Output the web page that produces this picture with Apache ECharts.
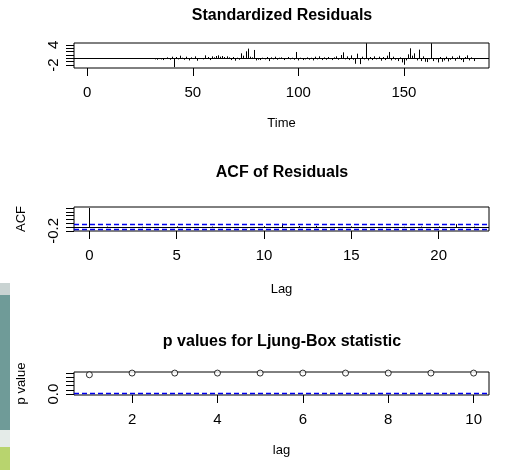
<!DOCTYPE html>
<html>
<head>
<meta charset="utf-8">
<script src="https://cdn.jsdelivr.net/npm/echarts@6/dist/echarts.min.js"></script>
<style>
  html, body { margin: 0; padding: 0; background: #fff; }
  #chart { width: 508px; height: 470px; }
</style>
</head>
<body>
<div id="chart"></div>
<script>
// standardized residuals, time 32..183 (nothing drawn before 32)
var residStart = 32;
var residuals = [
  -0.3, -0.4, -0.2, -0.3, -0.5, -0.2, 0.3, -0.4, 0.5, -2.6,
  0.4, -0.3, 0.8, 0.2, -0.4, 0.5, -0.6, 0.3, -0.2, 0.6,
  -0.7, -0.2, 0.1, -0.3, 0.9, 0.4, -0.5, 0.6, 0.3, 0.7,
  0.9, 0.5, 0.7, 0.4, 0.6, 0.3, -0.5, 0.4, -0.7, 0.2,
  -0.4, 1.5, 0.8, 2.1, 2.9, 0.5, 0.3, 2.5, -0.6, -0.4,
  -0.5, 0.2, -0.3, 0.4, -0.8, 0.3, -0.3, 0.5, -0.4, 0.2,
  0.3, -0.5, -0.2, 0.4, -0.3, 0.2, -0.4, 1.9, -0.6, 0.2,
  -0.5, -0.3, 0.3, -0.4, 0.2, -0.6, 0.5, -0.3, 0.6, -0.5,
  0.3, -0.4, 0.4, -0.2, -0.5, 0.3, 0.6, -0.4, 1.0, 1.8,
  -0.3, 0.6, -0.5, 0.9, -0.4, -1.6, 1.4, -1.7, 0.5, -0.3,
  4.5, -0.6, 0.4, -0.5, 0.6, -0.3, 0.5, -0.7, 0.4, -0.5,
  0.8, 1.9, -0.6, 0.5, -0.4, -0.8, 0.3, -1.2, -1.9, -0.6,
  1.2, 3.0, 0.8, 1.5, -0.6, 2.6, -0.8, 0.6, -1.0, -1.1,
  -0.3, 4.5, -0.8, -0.3, -1.2, 0.4, -1.0, -0.6, 0.5, -0.9,
  -0.4, 0.6, -0.7, 0.3, 0.8, -0.5, -1.1, 0.4, 0.9, -0.6,
  0.3, -0.8
];
var timeTicks = [0, 50, 100, 150];
var residTicks = [-2, -1, 0, 1, 2, 3, 4];
var residLabels = [-2, 4];

// ACF of residuals, lag 0..22
var acfValues = [1, 0.02, -0.03, 0.01, -0.02, 0.03, -0.05, 0.02, -0.01, -0.06, 0.04,
  0.18, 0.05, 0.06, -0.07, 0.03, -0.02, -0.06, 0.01, 0.02, 0.03, 0.15, 0.02];
var acfBound = 0.115;
var lagTicks = [0, 5, 10, 15, 20];
var acfTicks = [-0.2, 0, 0.2, 0.4, 0.6, 0.8, 1.0];
var acfLabels = [-0.2];

// Ljung-Box p values, lag 1..10
var pLags = [1, 2, 3, 4, 5, 6, 7, 8, 9, 10];
var pValues = [0.91, 0.99, 0.99, 0.99, 0.99, 0.99, 0.99, 0.99, 0.99, 0.99];
var pLevel = 0.05;
var pLagTicks = [2, 4, 6, 8, 10];
var pTicks = [0, 0.2, 0.4, 0.6, 0.8, 1.0];
var pLabels = [0];

var font = 'Liberation Sans, Arial, sans-serif';
var ink = '#000';
var blue = '#0000ee';

var residData = residuals.map(function (v, i) { return [residStart + i, v]; });
var acfData = acfValues.map(function (v, i) { return [i, v]; });
var pData = pValues.map(function (v, i) { return [pLags[i], v]; });

// vertical "h" lines from zero to the value
function spikes(params, api) {
  var base = api.coord([api.value(0), 0]);
  var top = api.coord([api.value(0), api.value(1)]);
  return {
    type: 'line',
    shape: { x1: Math.round(base[0]) + 0.5, y1: base[1], x2: Math.round(top[0]) + 0.5, y2: top[1] },
    style: { stroke: ink, lineWidth: 1 }
  };
}

function xAxisFor(idx, min, max, ticks, name, gap) {
  return {
    type: 'value', gridIndex: idx, min: min, max: max,
    axisLine: { show: false, onZero: false }, splitLine: { show: false },
    axisTick: { show: true, customValues: ticks, length: 8, lineStyle: { color: ink, width: 1 } },
    axisLabel: { customValues: ticks, fontSize: 15, color: ink, fontFamily: font, margin: 17 },
    name: name, nameLocation: 'middle', nameGap: gap,
    nameTextStyle: { fontSize: 13, color: ink, fontFamily: font }
  };
}

function yAxisFor(idx, min, max, ticks, labels, name, fmt) {
  return {
    type: 'value', gridIndex: idx, min: min, max: max,
    axisLine: { show: false, onZero: false }, splitLine: { show: false },
    axisTick: { show: true, customValues: ticks, length: 8, lineStyle: { color: ink, width: 1 } },
    axisLabel: { customValues: labels, rotate: 90, fontSize: 15, color: ink, fontFamily: font, margin: 13,
      formatter: fmt },
    name: name, nameLocation: 'middle', nameGap: 46, nameRotate: 90,
    nameTextStyle: { fontSize: 13, color: ink, fontFamily: font }
  };
}

function hLine(y, color, type, w) {
  return { yAxis: y, lineStyle: { color: color, type: type, width: w || 1 } };
}

var chart = echarts.init(document.getElementById('chart'), null, { renderer: 'canvas' });
chart.setOption({
  animation: false,
  backgroundColor: '#fff',
  title: [
    { text: 'Standardized Residuals', left: 282, top: 8, textAlign: 'center', padding: 0,
      textStyle: { fontSize: 16, fontWeight: 'bold', color: ink, fontFamily: font } },
    { text: 'ACF of Residuals', left: 282, top: 165, textAlign: 'center', padding: 0,
      textStyle: { fontSize: 16, fontWeight: 'bold', color: ink, fontFamily: font } },
    { text: 'p values for Ljung-Box statistic', left: 282, top: 334, textAlign: 'center', padding: 0,
      textStyle: { fontSize: 16, fontWeight: 'bold', color: ink, fontFamily: font } }
  ],
  graphic: [
    { type: 'rect', left: 0, top: 283, shape: { width: 10, height: 12 }, style: { fill: '#c9d3d2' }, silent: true },
    { type: 'rect', left: 0, top: 295, shape: { width: 10, height: 135 }, style: { fill: '#6f9b98' }, silent: true },
    { type: 'rect', left: 0, top: 430, shape: { width: 10, height: 17 }, style: { fill: '#e4ebe8' }, silent: true },
    { type: 'rect', left: 0, top: 447, shape: { width: 10, height: 23 }, style: { fill: '#b8d46e' }, silent: true }
  ],
  grid: [
    { left: 74, top: 43, width: 415, height: 25, show: true, borderColor: ink, borderWidth: 1, backgroundColor: 'transparent' },
    { left: 74, top: 207, width: 415, height: 24, show: true, borderColor: ink, borderWidth: 1, backgroundColor: 'transparent' },
    { left: 74, top: 372, width: 415, height: 23, show: true, borderColor: ink, borderWidth: 1, backgroundColor: 'transparent' }
  ],
  xAxis: [
    xAxisFor(0, -6.28, 190.3, timeTicks, 'Time', 49),
    xAxisFor(1, -0.88, 22.88, lagTicks, 'Lag', 52),
    xAxisFor(2, 0.64, 10.36, pLagTicks, 'lag', 49)
  ],
  yAxis: [
    yAxisFor(0, -2.86, 4.57, residTicks, residLabels, ''),
    yAxisFor(1, -0.21, 1.05, acfTicks, acfLabels, 'ACF'),
    yAxisFor(2, -0.04, 1.04, pTicks, pLabels, 'p value', function (v) { return v.toFixed(1); })
  ],
  series: [
    {
      type: 'custom', xAxisIndex: 0, yAxisIndex: 0, data: residData, renderItem: spikes,
      markLine: { silent: true, symbol: 'none', label: { show: false },
        data: [hLine(0, ink, 'solid')] }
    },
    {
      type: 'custom', xAxisIndex: 1, yAxisIndex: 1, data: acfData, renderItem: spikes,
      markLine: { silent: true, symbol: 'none', label: { show: false },
        data: [hLine(0, ink, 'solid'), hLine(acfBound, blue, [5, 3], 1.4), hLine(-acfBound, blue, [5, 3], 1.4)] }
    },
    {
      type: 'scatter', xAxisIndex: 2, yAxisIndex: 2, data: pData, z: 5,
      symbol: 'circle', symbolSize: 6,
      itemStyle: { color: '#fff', borderColor: ink, borderWidth: 1 },
      markLine: { silent: true, symbol: 'none', label: { show: false },
        data: [hLine(pLevel, blue, [5, 3], 1.4)] }
    }
  ]
});
</script>
</body>
</html>
